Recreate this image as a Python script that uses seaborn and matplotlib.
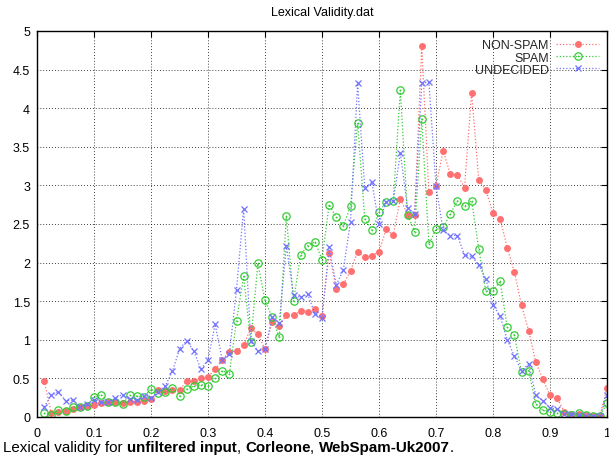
import numpy as np
import pandas as pd
import matplotlib
matplotlib.use("Agg")
import matplotlib.pyplot as plt
import seaborn as sns
from matplotlib.lines import Line2D

# ---------------- data ----------------
x_vals = np.arange(1, 81) / 80.0

non_spam = [0.47, 0.05, 0.07, 0.08, 0.10, 0.13, 0.14, 0.16, 0.18, 0.19,
            0.19, 0.18, 0.19, 0.20, 0.21, 0.23, 0.35, 0.34, 0.35, 0.35,
            0.46, 0.46, 0.50, 0.52, 0.62, 0.74, 0.84, 0.86, 0.93, 1.15,
            1.07, 0.88, 1.23, 1.18, 1.32, 1.32, 1.37, 1.36, 1.40, 1.31,
            2.12, 1.66, 1.72, 1.89, 2.14, 2.07, 2.09, 2.14, 2.43, 2.36,
            2.83, 2.62, 2.62, 4.80, 2.91, 2.99, 3.45, 3.15, 3.14, 2.97,
            4.20, 3.07, 2.94, 2.64, 2.57, 2.19, 1.88, 1.45, 1.12, 0.71,
            0.49, 0.28, 0.24, 0.07, 0.04, 0.04, 0.02, 0.01, 0.01, 0.38]

spam = [0.05, 0.03, 0.09, 0.08, 0.13, 0.13, 0.14, 0.26, 0.29, 0.19,
        0.20, 0.17, 0.28, 0.27, 0.26, 0.36, 0.31, 0.32, 0.37, 0.27,
        0.36, 0.40, 0.42, 0.40, 0.50, 0.60, 0.56, 1.25, 1.82, 0.97,
        1.99, 1.51, 1.29, 1.03, 2.60, 1.50, 2.10, 2.22, 2.27, 2.04,
        2.75, 2.59, 2.48, 2.73, 3.81, 2.57, 2.42, 2.65, 2.79, 2.80,
        4.23, 2.62, 2.40, 3.86, 2.24, 2.43, 2.46, 2.63, 2.80, 2.73,
        2.80, 2.18, 1.63, 1.63, 1.76, 1.16, 1.06, 0.58, 0.60, 0.17,
        0.09, 0.06, 0.05, 0.04, 0.03, 0.05, 0.02, 0.01, 0.01, 0.18]

undecided = [0.13, 0.28, 0.33, 0.21, 0.22, 0.13, 0.17, 0.22, 0.19, 0.19,
             0.25, 0.29, 0.23, 0.22, 0.27, 0.24, 0.33, 0.40, 0.59, 0.88,
             0.99, 0.86, 0.62, 0.74, 1.20, 0.74, 0.82, 1.65, 2.70, 0.99,
             0.85, 0.88, 1.29, 1.22, 2.22, 1.58, 1.55, 1.59, 1.34, 1.28,
             2.20, 1.71, 1.91, 2.53, 4.32, 2.97, 3.04, 2.50, 2.79, 2.80,
             3.42, 2.71, 2.63, 4.32, 4.34, 2.99, 2.42, 2.35, 2.35, 2.10,
             2.08, 1.97, 1.79, 1.45, 1.31, 1.00, 0.79, 0.60, 0.69, 0.28,
             0.21, 0.12, 0.10, 0.04, 0.04, 0.03, 0.01, 0.01, 0.01, 0.28]

series_names = ["NON-SPAM", "SPAM", "UNDECIDED"]
x_ticks = [0, 0.1, 0.2, 0.3, 0.4, 0.5, 0.6, 0.7, 0.8, 0.9, 1.0]
x_tick_labels = ["0", "0.1", "0.2", "0.3", "0.4", "0.5", "0.6", "0.7", "0.8", "0.9", "1"]
y_ticks = [0, 0.5, 1, 1.5, 2, 2.5, 3, 3.5, 4, 4.5, 5]
y_tick_labels = ["0", "0.5", "1", "1.5", "2", "2.5", "3", "3.5", "4", "4.5", "5"]
title_text = "Lexical Validity.dat"
caption_parts = [("Lexical validity for ", "normal"), ("unfiltered input", "bold"),
                 (", ", "normal"), ("Corleone", "bold"), (", ", "normal"),
                 ("WebSpam-Uk2007", "bold"), (".", "normal")]

# ---------------- style ----------------
sns.set_theme(style="white")
plt.rcParams['font.family'] = ['Liberation Sans', 'DejaVu Sans']

W, H = 609, 456
fig = plt.figure(figsize=(W / 100, H / 100), dpi=100)
ax = fig.add_axes([37 / W, 1 - 418 / H, 570 / W, 386 / H])

df = pd.DataFrame({
    "x": np.tile(x_vals, 3),
    "y": non_spam + spam + undecided,
    "series": np.repeat(series_names, len(x_vals)),
})

colors = {"NON-SPAM": "#ff7070", "SPAM": "#33cc33", "UNDECIDED": "#7272ff"}
dots = (0, (1, 1.6))

d = df[df.series == "NON-SPAM"]
sns.lineplot(data=d, x="x", y="y", ax=ax, color=colors["NON-SPAM"], linestyle=dots,
             linewidth=0.9, marker="o", markersize=5.0, markeredgewidth=0,
             markerfacecolor=colors["NON-SPAM"], errorbar=None, legend=False, sort=False)

d = df[df.series == "SPAM"]
sns.lineplot(data=d, x="x", y="y", ax=ax, color=colors["SPAM"], linestyle=dots,
             linewidth=0.9, marker="o", markersize=5.3, markeredgewidth=0.9,
             markerfacecolor="none", markeredgecolor=colors["SPAM"],
             errorbar=None, legend=False, sort=False)
sns.scatterplot(data=d, x="x", y="y", ax=ax, color=colors["SPAM"], s=1.5,
                linewidth=0, legend=False)

d = df[df.series == "UNDECIDED"]
sns.lineplot(data=d, x="x", y="y", ax=ax, color=colors["UNDECIDED"], linestyle=dots,
             linewidth=0.9, marker="x", markersize=5, markeredgewidth=0.9,
             markeredgecolor=colors["UNDECIDED"], errorbar=None, legend=False, sort=False)

ax.set_xlim(0, 1)
ax.set_ylim(0, 5)
ax.set_xticks(x_ticks)
ax.set_xticklabels(x_tick_labels)
ax.set_yticks(y_ticks)
ax.set_yticklabels(y_tick_labels)
ax.set_xlabel("")
ax.set_ylabel("")
ax.tick_params(direction="in", top=True, right=True, length=4, width=0.8,
               labelsize=9, colors="black", pad=5)
ax.tick_params(axis="x", pad=7.5)
ax.grid(True, color="black", linestyle=(0, (1, 2.5)), linewidth=0.6)
for s in ax.spines.values():
    s.set_color("black")
    s.set_linewidth(1.0)
    s.set_visible(True)

# legend (gnuplot-like: text right-aligned, sample to the right)
h_ns = Line2D([], [], color=colors["NON-SPAM"], linestyle=dots, linewidth=0.9,
              marker="o", markersize=5.0, markeredgewidth=0)
h_sp = (Line2D([], [], color=colors["SPAM"], linestyle=dots, linewidth=0.9,
               marker="o", markersize=5.3, markeredgewidth=0.9, markerfacecolor="none"),
        Line2D([], [], color=colors["SPAM"], linestyle="none", marker="o",
               markersize=1.2, markeredgewidth=0))
h_un = Line2D([], [], color=colors["UNDECIDED"], linestyle=dots, linewidth=0.9,
              marker="x", markersize=5, markeredgewidth=0.9)
leg = ax.legend([h_ns, h_sp, h_un], series_names, loc="upper right",
                bbox_to_anchor=(0.99, 0.985), markerfirst=False, frameon=False,
                handlelength=3.4, handletextpad=0.6, labelspacing=0.02,
                fontsize=9, borderaxespad=0, borderpad=0.2, numpoints=1)

fig.text((37 + 607) / 2 / W, 1 - 13 / H, title_text, ha="center", va="center",
         fontsize=9, color="black")

# caption with bold parts
fig.canvas.draw()
renderer = fig.canvas.get_renderer()
xpos = 3
for txt, wt in caption_parts:
    t = fig.text(xpos / W, 1 - 448 / H, txt, ha="left", va="center",
                 fontsize=10.9, fontweight=wt, color="black")
    bb = t.get_window_extent(renderer=renderer)
    xpos += bb.width

fig.savefig("out.png", dpi=100)
